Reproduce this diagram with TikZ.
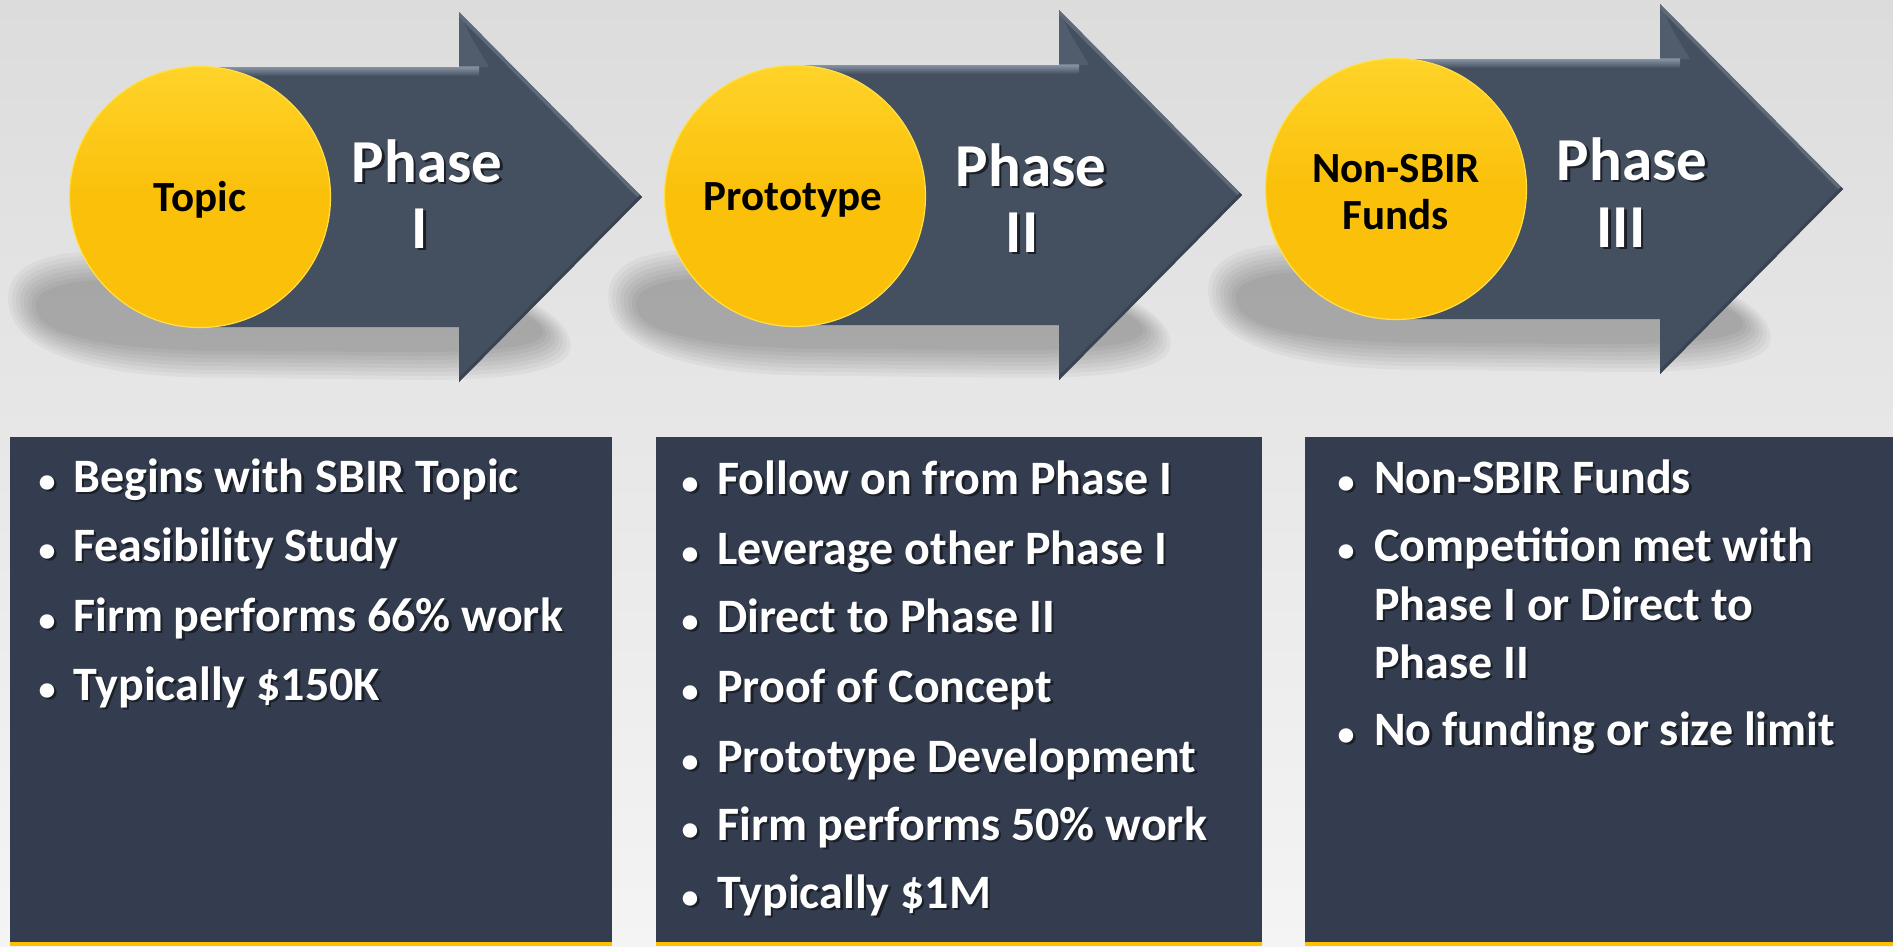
\documentclass[tikz,border=0pt]{standalone}
\usepackage{fontspec}
\setmainfont{Carlito}
\usetikzlibrary{calc}
\definecolor{bgtop}{HTML}{DCDCDC}
\definecolor{bgbot}{HTML}{F4F4F4}
\definecolor{arrowc}{HTML}{444F60}
\definecolor{arrowhi}{HTML}{8E99AB}
\definecolor{arrowedge}{HTML}{5E6979}
\definecolor{arrowdark}{HTML}{3A4352}
\definecolor{boxc}{HTML}{343D50}
\definecolor{barc}{HTML}{FFC000}
\definecolor{ymain}{HTML}{FAC00A}
\definecolor{ylight}{HTML}{FFD329}
\definecolor{yrim}{HTML}{FFE04A}
\definecolor{tshadow}{HTML}{1A1F28}
\newcommand\tsh[1]{\rlap{\kern2.5pt\raisebox{-2.5pt}{\color{tshadow}#1}}#1}
% #1 circle centre x, #2 head base x, #3 centre y
\newcommand\arrowpath[3]{(#1,{#3-130}) -- (#2,{#3-130}) -- (#2,{#3-185}) -- ({#2+183},#3) -- (#2,{#3+185}) -- (#2,{#3+130}) -- (#1,{#3+130}) -- cycle}
\newcommand\arrowbody[3]{%
  \fill[arrowc] \arrowpath{#1}{#2}{#3};
  \begin{scope}
    \clip \arrowpath{#1}{#2}{#3};
    \shade[top color=arrowhi, bottom color=arrowc] (#1,{#3-131}) rectangle ({#2+20},{#3-121});
    \draw[line width=7pt, arrowedge] (#2,{#3-185}) -- ({#2+183},#3);
    \draw[line width=6pt, arrowdark] ({#2+183},#3) -- (#2,{#3+185});
    \fill[arrowedge, opacity=.5] (#2,{#3-185}) -- ({#2+12},{#3-160}) -- ({#2+30},{#3-130}) -- (#2,{#3-130}) -- cycle;
  \end{scope}}
\newcommand\shadowshape{(22,302) .. controls (22,266) and (90,262) .. (150,268) -- (470,292)
        .. controls (535,302) and (565,330) .. (555,345)
        .. controls (545,362) and (480,366) .. (420,366) -- (200,364)
        .. controls (85,361) and (22,340) .. (22,302) -- cycle}
% shadow blob: #1 x offset, #2 y offset
\newcommand\shadowblob[2]{%
  \foreach \d in {-14,-10,-6,-2,2,6,10,14}{
    \begin{scope}[shift={(#1,#2)}, shift={(288,316)}, xscale={1-2*\d/540}, yscale={1-2*\d/100}, shift={(-288,-316)}]
      \fill[black, opacity=0.036] \shadowshape;
    \end{scope}}}
\tikzset{
  yelcirc/.style={circle, minimum size=261pt, inner sep=0pt,
    top color=ylight, bottom color=ymain, middle color=ymain,
    draw=yrim, line width=1.2pt},
  circtxt/.style={align=center, text=black, inner sep=0pt,
    font=\fontsize{43}{47}\selectfont\bfseries},
  phasetxt/.style={anchor=base, inner sep=0pt, text=white,
    font=\fontsize{61}{66}\selectfont\bfseries},
  infobox/.style={fill=boxc, anchor=north west, inner sep=0pt, minimum height=509pt},
  bodytxt/.style={anchor=base west, inner sep=0pt, text=white,
    font=\fontsize{48}{55}\selectfont\bfseries},
  bul/.style={anchor=base, inner sep=0pt, text=white,
    font=\fontsize{34}{40}\selectfont\bfseries}
}
\begin{document}
\begin{tikzpicture}[x=1pt,y=-1pt]
\useasboundingbox (0,0) rectangle (1893,946);
\shade[top color=bgtop, bottom color=bgbot] (0,0) rectangle (1893,946);

% shadows
\shadowblob{0}{0}
\shadowblob{600}{-2}
\shadowblob{1200}{-8}

% arrows
\arrowbody{200}{459}{197}
\arrowbody{795}{1059}{195}
\arrowbody{1396}{1660}{189}

% circles
\node[yelcirc] (c1) at (200,197) {};
\node[yelcirc] (c2) at (795,196) {};
\node[yelcirc] (c3) at (1396,189) {};
\node[circtxt] (c1t) at ($(c1)+(0,3)$) {Topic};
\node[circtxt] (c2t) at ($(c2)+(-2,4)$) {Prototype};
\node[circtxt] (c3t) at ($(c3)+(0,3)$) {Non-SBIR\\Funds};

% phase labels
\node[phasetxt] (p1a) at (427,182) {\tsh{Phase}};
\node[phasetxt] (p1b) at (420,248) {\tsh{I}};
\node[phasetxt] (p2a) at (1031,186) {\tsh{Phase}};
\node[phasetxt] (p2b) at (1022,252) {\tsh{II}};
\node[phasetxt] (p3a) at (1632,180) {\tsh{Phase}};
\node[phasetxt] (p3b) at (1621,247) {\tsh{III}};

% info boxes
\node[infobox, minimum width=602pt] (b1) at (10,437) {};
\node[infobox, minimum width=606pt] (b2) at (656,437) {};
\node[infobox, minimum width=588pt] (b3) at (1305,437) {};
\fill[barc] ($(b1.south west)+(0,-4)$) rectangle (b1.south east);
\fill[barc] ($(b2.south west)+(0,-4)$) rectangle (b2.south east);
\fill[barc] ($(b3.south west)+(0,-4)$) rectangle (b3.south east);

% box 1 text
\node[bul] (d11) at (47,492) {\tsh{•}};
\node[bodytxt] (t11) at (73,492) {\tsh{Begins with SBIR Topic}};
\node[bul] (d12) at (47,561) {\tsh{•}};
\node[bodytxt] (t12) at (73,561) {\tsh{Feasibility Study}};
\node[bul] (d13) at (47,631) {\tsh{•}};
\node[bodytxt] (t13) at (73,631) {\tsh{Firm performs 66\% work}};
\node[bul] (d14) at (47,700) {\tsh{•}};
\node[bodytxt] (t14) at (73,700) {\tsh{Typically \$150K}};

% box 2 text
\node[bul] (d21) at (690,494) {\tsh{•}};
\node[bodytxt] (t21) at (717,494) {\tsh{Follow on from Phase I}};
\node[bul] (d22) at (690,564) {\tsh{•}};
\node[bodytxt] (t22) at (717,564) {\tsh{Leverage other Phase I}};
\node[bul] (d23) at (690,632) {\tsh{•}};
\node[bodytxt] (t23) at (717,632) {\tsh{Direct to Phase II}};
\node[bul] (d24) at (690,702) {\tsh{•}};
\node[bodytxt] (t24) at (717,702) {\tsh{Proof of Concept}};
\node[bul] (d25) at (690,772) {\tsh{•}};
\node[bodytxt] (t25) at (717,772) {\tsh{Prototype Development}};
\node[bul] (d26) at (690,840) {\tsh{•}};
\node[bodytxt] (t26) at (717,840) {\tsh{Firm performs 50\% work}};
\node[bul] (d27) at (690,908) {\tsh{•}};
\node[bodytxt] (t27) at (717,908) {\tsh{Typically \$1M}};

% box 3 text
\node[bul] (d31) at (1346,493) {\tsh{•}};
\node[bodytxt] (t31) at (1374,493) {\tsh{Non-SBIR Funds}};
\node[bul] (d32) at (1346,561) {\tsh{•}};
\node[bodytxt] (t32) at (1374,561) {\tsh{Competition met with}};
\node[bodytxt] (t33) at (1374,620) {\tsh{Phase I or Direct to}};
\node[bodytxt] (t34) at (1374,678) {\tsh{Phase II}};
\node[bul] (d35) at (1346,745) {\tsh{•}};
\node[bodytxt] (t35) at (1374,745) {\tsh{No funding or size limit}};
\end{tikzpicture}
\end{document}
